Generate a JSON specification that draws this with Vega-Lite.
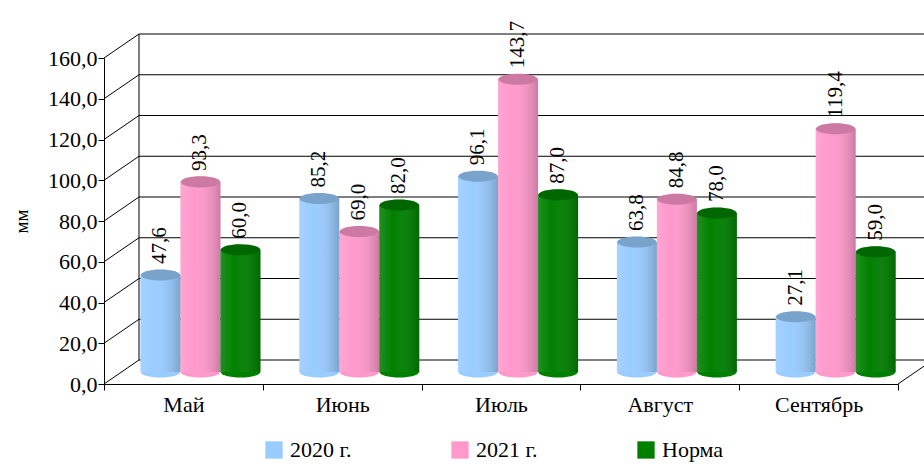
{
  "$schema": "https://vega.github.io/schema/vega-lite/v6.json",
  "width": 794,
  "height": 326,
  "autosize": {"type": "none"},
  "padding": {"left": 104, "top": 58, "right": 26, "bottom": 82},
  "background": "white",
  "config": {
    "view": {"stroke": null},
    "font": "Liberation Serif",
    "text": {"font": "Liberation Serif"},
    "axis": {"labelFont": "Liberation Serif", "titleFont": "Liberation Serif", "labelColor": "#000", "titleColor": "#000", "domainColor": "#000", "tickColor": "#000", "grid": false},
    "legend": {"labelFont": "Liberation Serif", "labelColor": "#000"}
  },
  "datasets": {
    "rain": [
      {"month": "Май", "series": "2020 г.", "v": 47.6},
      {"month": "Май", "series": "2021 г.", "v": 93.3},
      {"month": "Май", "series": "Норма", "v": 60.0},
      {"month": "Июнь", "series": "2020 г.", "v": 85.2},
      {"month": "Июнь", "series": "2021 г.", "v": 69.0},
      {"month": "Июнь", "series": "Норма", "v": 82.0},
      {"month": "Июль", "series": "2020 г.", "v": 96.1},
      {"month": "Июль", "series": "2021 г.", "v": 143.7},
      {"month": "Июль", "series": "Норма", "v": 87.0},
      {"month": "Август", "series": "2020 г.", "v": 63.8},
      {"month": "Август", "series": "2021 г.", "v": 84.8},
      {"month": "Август", "series": "Норма", "v": 78.0},
      {"month": "Сентябрь", "series": "2020 г.", "v": 27.1},
      {"month": "Сентябрь", "series": "2021 г.", "v": 119.4},
      {"month": "Сентябрь", "series": "Норма", "v": 59.0}
    ],
    "grid": [{"v": 0}, {"v": 20}, {"v": 40}, {"v": 60}, {"v": 80}, {"v": 100}, {"v": 120}, {"v": 140}, {"v": 160}],
    "wall": [{"v": 0, "top": 160}]
  },
  "layer": [
    {
      "data": {"name": "grid"},
      "mark": {"type": "rule", "xOffset": 35, "x2Offset": 115, "yOffset": -24, "y2Offset": -24, "color": "#000", "strokeWidth": 1},
      "encoding": {
        "x": {
          "datum": "Май", "type": "nominal", "bandPosition": 0, "title": null,
          "axis": {"labelAngle": 0, "labelAlign": "center", "labelBaseline": "top", "labelFontSize": 22, "labelFont": "Liberation Serif",
            "ticks": true, "tickBand": "extent", "tickSize": 6, "labelPadding": 4, "domainWidth": 1}
        },
        "x2": {"datum": "Сентябрь"},
        "y": {
          "field": "v", "type": "quantitative", "title": "мм",
          "scale": {"domain": [0, 160], "nice": false},
          "axis": {
            "titleFontSize": 19, "titleFontWeight": "normal", "titlePadding": 16, "titleFont": "Liberation Serif",
            "values": [0, 20, 40, 60, 80, 100, 120, 140, 160],
            "labelExpr": "replace(format(datum.value, '.1f'), '.', ',')",
            "labelFontSize": 22, "labelFont": "Liberation Serif", "tickSize": 6, "labelPadding": 1, "domainWidth": 1
          }
        },
        "y2": {"field": "v"}
      }
    },
    {
      "data": {"name": "grid"},
      "mark": {"type": "rule", "x2Offset": -44.4, "y2Offset": -24, "color": "#000", "strokeWidth": 1},
      "encoding": {
        "x": {"datum": "Май", "type": "nominal", "bandPosition": 0, "title": null},
        "x2": {"datum": "Май"},
        "y": {"field": "v", "type": "quantitative", "title": "мм"},
        "y2": {"field": "v"}
      }
    },
    {
      "data": {"name": "wall"},
      "mark": {"type": "rule", "xOffset": 35, "yOffset": -24, "y2Offset": -24, "color": "#000", "strokeWidth": 1},
      "encoding": {
        "x": {"datum": "Май", "type": "nominal", "bandPosition": 0, "title": null},
        "y": {"field": "v", "type": "quantitative", "title": "мм"},
        "y2": {"field": "top"}
      }
    },
    {
      "data": {"name": "wall"},
      "mark": {"type": "rule", "x2Offset": 114.4, "y2Offset": -24, "color": "#000", "strokeWidth": 1},
      "encoding": {
        "x": {"datum": "Сентябрь", "type": "nominal", "bandPosition": 1, "title": null},
        "x2": {"datum": "Сентябрь"},
        "y": {"field": "v", "type": "quantitative", "title": "мм"},
        "y2": {"field": "v"}
      }
    },
    {
      "data": {"name": "rain"},
      "mark": {"type": "point", "filled": true, "opacity": 1, "strokeWidth": 0, "size": 1560, "yOffset": -12,
        "shape": "M -1 0 A 1 0.28 0 1 0 1 0 A 1 0.28 0 1 0 -1 0 Z"},
      "encoding": {
        "x": {"field": "month", "type": "nominal", "title": null},
        "xOffset": {"field": "series", "type": "nominal", "scale": {"paddingInner": 0, "paddingOuter": 0.485, "align": 0.94}},
        "y": {"datum": 0, "type": "quantitative", "title": "мм"},
        "color": {"field": "series", "type": "nominal", "title": null}
      }
    },
    {
      "data": {"name": "rain"},
      "mark": {"type": "bar", "yOffset": -12, "y2Offset": -12},
      "encoding": {
        "x": {
          "field": "month", "type": "nominal", "title": null,
          "scale": {"domain": ["Май", "Июнь", "Июль", "Август", "Сентябрь"], "paddingInner": 0, "paddingOuter": 0}
        },
        "xOffset": {"field": "series", "type": "nominal", "scale": {"paddingInner": 0, "paddingOuter": 0.485, "align": 0.94}},
        "y": {"field": "v", "type": "quantitative", "title": "мм"},
        "color": {
          "field": "series", "type": "nominal", "title": null,
          "scale": {"domain": ["2020 г.", "2021 г.", "Норма"], "range": ["#99CCFF", "#FF99CC", "#008000"]},
          "legend": {
            "orient": "none", "direction": "horizontal", "columns": 3, "gridAlign": "all",
            "legendX": 159, "legendY": 381, "columnPadding": 97,
            "symbolType": "square", "symbolSize": 300, "symbolStrokeWidth": 0,
            "labelFontSize": 22, "labelFont": "Liberation Serif", "labelOffset": 5
          }
        }
      }
    },
    {
      "data": {"name": "rain"},
      "mark": {"type": "bar", "yOffset": -12, "y2Offset": -12,
        "color": {"gradient": "linear", "x1": 0, "x2": 1, "y1": 0, "y2": 0,
          "stops": [
            {"offset": 0, "color": "rgba(255,255,255,0.12)"},
            {"offset": 0.35, "color": "rgba(255,255,255,0)"},
            {"offset": 1, "color": "rgba(0,0,0,0.2)"}
          ]}},
      "encoding": {
        "x": {"field": "month", "type": "nominal", "title": null},
        "xOffset": {"field": "series", "type": "nominal", "scale": {"paddingInner": 0, "paddingOuter": 0.485, "align": 0.94}},
        "y": {"field": "v", "type": "quantitative", "title": "мм"}
      }
    },
    {
      "data": {"name": "rain"},
      "mark": {"type": "point", "filled": true, "opacity": 1, "strokeWidth": 0, "size": 1560, "yOffset": -12,
        "shape": "M -1 0 A 1 0.28 0 1 0 1 0 A 1 0.28 0 1 0 -1 0 Z"},
      "encoding": {
        "x": {"field": "month", "type": "nominal", "title": null},
        "xOffset": {"field": "series", "type": "nominal", "scale": {"paddingInner": 0, "paddingOuter": 0.485, "align": 0.94}},
        "y": {"field": "v", "type": "quantitative", "title": "мм"},
        "color": {"field": "series", "type": "nominal", "title": null}
      }
    },
    {
      "data": {"name": "rain"},
      "mark": {"type": "point", "filled": true, "opacity": 1, "strokeWidth": 0, "size": 1560, "yOffset": -12,
        "color": "rgba(0,0,0,0.2)",
        "shape": "M -1 0 A 1 0.28 0 1 0 1 0 A 1 0.28 0 1 0 -1 0 Z"},
      "encoding": {
        "x": {"field": "month", "type": "nominal", "title": null},
        "xOffset": {"field": "series", "type": "nominal", "scale": {"paddingInner": 0, "paddingOuter": 0.485, "align": 0.94}},
        "y": {"field": "v", "type": "quantitative", "title": "мм"}
      }
    },
    {
      "data": {"name": "rain"},
      "transform": [{"calculate": "replace(format(datum.v, '.1f'), '.', ',')", "as": "label"}],
      "mark": {"type": "text", "angle": 270, "align": "left", "baseline": "middle", "dx": 11, "yOffset": -12,
        "fontSize": 21, "font": "Liberation Serif", "color": "#000"},
      "encoding": {
        "x": {"field": "month", "type": "nominal", "title": null},
        "xOffset": {"field": "series", "type": "nominal", "scale": {"paddingInner": 0, "paddingOuter": 0.485, "align": 0.94}},
        "y": {"field": "v", "type": "quantitative", "title": "мм"},
        "text": {"field": "label", "type": "nominal"}
      }
    }
  ]
}
